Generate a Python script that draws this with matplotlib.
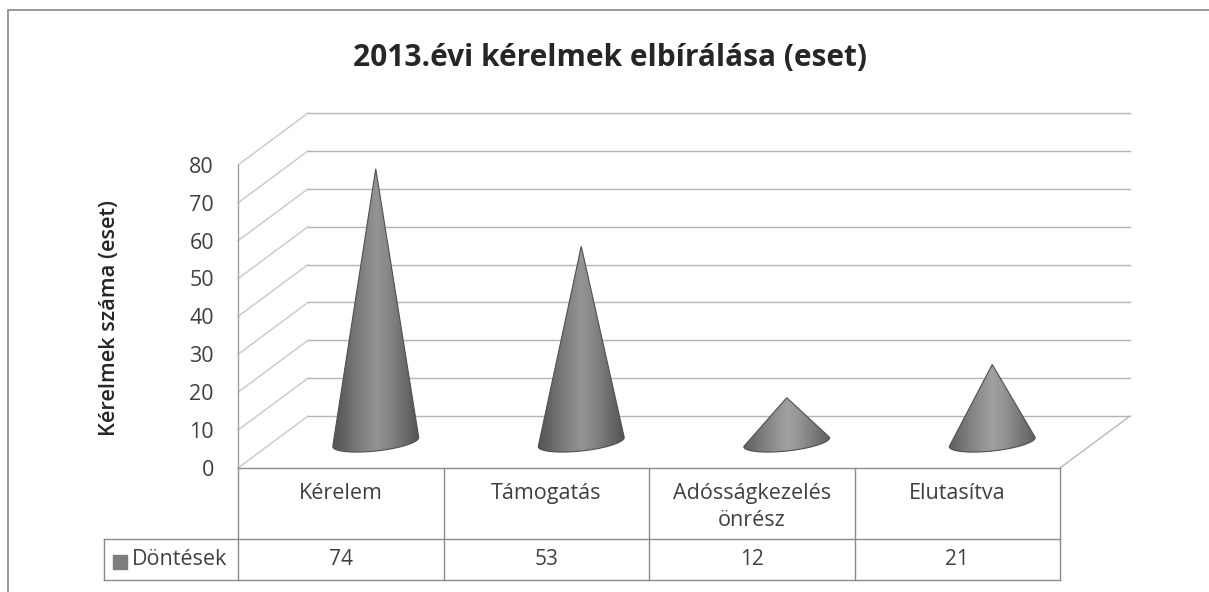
import numpy as np
import matplotlib
matplotlib.use('Agg')
import matplotlib.pyplot as plt
from matplotlib.path import Path
from matplotlib.patches import PathPatch, Rectangle

categories = ['Kérelem', 'Támogatás', 'Adósságkezelés\nönrész', 'Elutasítva']
values = [74, 53, 12, 21]
series_name = 'Döntések'
y_ticks = [0, 10, 20, 30, 40, 50, 60, 70, 80]

plt.rcParams['font.family'] = ['Open Sans', 'DejaVu Sans']

W, H = 1209, 592
fig = plt.figure(figsize=(W / 100, H / 100), dpi=100)

# frame around the chart, only top and left survive the scan
fig.add_artist(plt.Line2D([1, 8 / W, 8 / W], [1 - 10 / H, 1 - 10 / H, 0], color='#8f8f8f', lw=1.3))

left, right, top, bottom = 238, 1060, 165, 468
ax = fig.add_axes([left / W, 1 - bottom / H, (right - left) / W, (bottom - top) / H])
ax.set_xlim(0, 4)
ax.set_ylim(0, 80)
ax.axis('off')

# oblique depth of the 3D box, in data units
dx = 70 / 205.5
dy = 52 / 3.79
grid_color = '#b4b4b4'

for t in y_ticks:
    ax.plot([0, dx], [t, t + dy], color='#c8c8c8', lw=1, clip_on=False)
    ax.plot([dx, 4 + dx], [t + dy, t + dy], color=grid_color, lw=1, clip_on=False)
    ax.text(-0.117, t - 0.6, str(t), ha='right', va='center', fontsize=15.5, color='#404040')
ax.plot([0, 0], [0, 80], color='#a0a0a0', lw=1, clip_on=False)
ax.plot([4, 4 + dx], [0, dy], color='#b8b8b8', lw=1, clip_on=False)

# table under the plot
row1, row2 = -18.7, -29.6
legend_x = -0.652
line_color = '#8c8c8c'
ax.plot([0, 4], [0, 0], color=line_color, lw=1, clip_on=False)
for i in range(5):
    ax.plot([i, i], [0, row2], color=line_color, lw=1, clip_on=False)
ax.plot([legend_x, 4], [row1, row1], color=line_color, lw=1, clip_on=False)
ax.plot([legend_x, 4], [row2, row2], color=line_color, lw=1, clip_on=False)
ax.plot([legend_x, legend_x], [row1, row2], color=line_color, lw=1, clip_on=False)

for i, (c, v) in enumerate(zip(categories, values)):
    ax.text(i + 0.5, -4.0, c, ha='center', va='top', fontsize=15.5, color='#404040', linespacing=1.35)
    ax.text(i + 0.5, (row1 + row2) / 2, str(v), ha='center', va='center', fontsize=15, color='#404040')

ax.add_patch(Rectangle((legend_x + 0.045, -26.7), 0.068, 3.7, color='#7d7d7d', clip_on=False))
ax.text(legend_x + 0.135, (row1 + row2) / 2, series_name, ha='left', va='center',
        fontsize=15.5, color='#404040')

# cones
half_w = 43 / 205.5
half_h = 9 / 3.79
tilt = 4.5 / 3.79
base_y = dy / 2
t_arc = np.linspace(np.pi, 2 * np.pi, 60)
shade = np.array([0.33, 0.39, 0.46, 0.52, 0.58, 0.54, 0.47, 0.40, 0.33])
for i, v in enumerate(values):
    cx = i + 0.5 + dx / 2
    arc_x = cx + half_w * np.cos(t_arc)
    arc_y = base_y + half_h * np.sin(t_arc) + tilt * np.cos(t_arc)
    apex = (cx, base_y + v * 0.975)
    verts = [apex] + list(zip(arc_x, arc_y)) + [apex]
    codes = [Path.MOVETO] + [Path.LINETO] * len(arc_x) + [Path.CLOSEPOLY]
    clip = PathPatch(Path(verts, codes), facecolor='none', edgecolor='#505050', lw=0.8,
                     zorder=4, clip_on=False)
    ax.add_patch(clip)
    grad = np.interp(np.linspace(0, 1, 120), np.linspace(0, 1, len(shade)), shade)
    if v < 30:
        grad = grad + 0.05
    im = ax.imshow(grad[None, :], cmap='gray', vmin=0, vmax=1, aspect='auto', zorder=3,
                   extent=[cx - half_w, cx + half_w, base_y - half_h - tilt, apex[1]])
    im.set_clip_path(clip)
ax.set_xlim(0, 4)
ax.set_ylim(0, 80)

fig.text(610 / W, 1 - 58 / H, '2013.évi kérelmek elbírálása (eset)', ha='center', va='center',
         fontsize=21.5, fontweight='bold', color='#262626')
fig.text(109 / W, 1 - 318 / H, 'Kérelmek száma (eset)', rotation=90, ha='center', va='center',
         fontsize=15.7, fontweight='semibold', color='#262626')

fig.savefig('out.png', dpi=100)
